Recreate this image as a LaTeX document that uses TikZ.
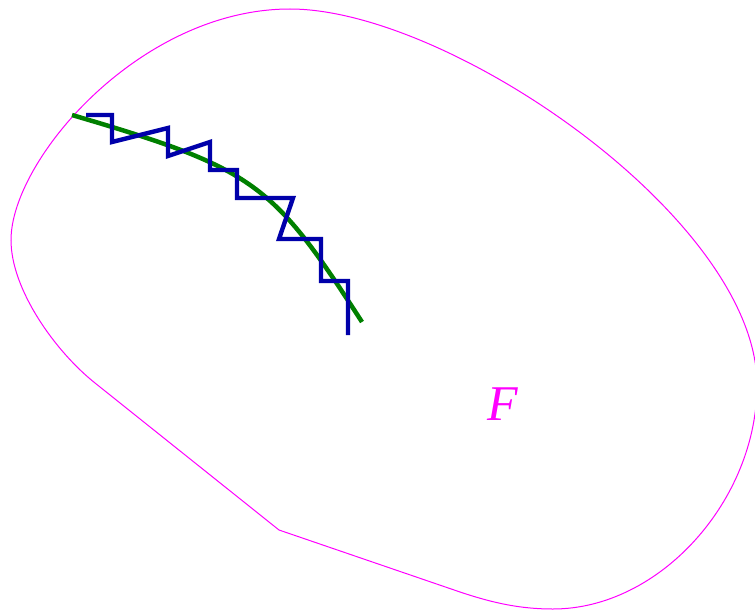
\documentclass[tikz,border=0pt]{standalone}
\usepackage{fontspec}
\newfontfamily\labelserif{Liberation Serif}
\definecolor{outlinemagenta}{RGB}{255,0,255}
\definecolor{curvegreen}{RGB}{0,128,0}
\definecolor{stairblue}{RGB}{0,0,170}
\begin{document}
\begin{tikzpicture}[x=1pt,y=-1pt,
  outline/.style={draw=outlinemagenta,line width=1pt},
  smoothcurve/.style={draw=curvegreen,line width=4.5pt},
  stairs/.style={draw=stairblue,line width=4.4pt,line join=miter,line cap=butt}]
\useasboundingbox (0,0) rectangle (755,610);
% region outline
\draw[outline] (279,530) -- (95,383)
  .. controls (56,352) and (11,290) .. (11,240)
  .. controls (11,160) and (140,9) .. (290,9)
  .. controls (450,9) and (757,220) .. (757,385)
  .. controls (757,500) and (660,609) .. (553,609)
  .. controls (520,609) and (493,603) .. (460,592)
  -- cycle;
% green curve
\draw[smoothcurve] (72,115) .. controls (255.6,169) and (272,182.5) .. (362,322);
% blue staircase
\draw[stairs] (86,115) -- (112,115) -- (112,142) -- (168,128) -- (168,156)
  -- (210,142) -- (210,170) -- (237,170) -- (237,198) -- (293,198)
  -- (279,239) -- (321,239) -- (321,281) -- (348,281) -- (348,335);
\node[text=outlinemagenta,font=\labelserif\itshape\fontsize{50}{52}\selectfont,inner sep=0pt] (F) at (503,404) {F};
\end{tikzpicture}
\end{document}
